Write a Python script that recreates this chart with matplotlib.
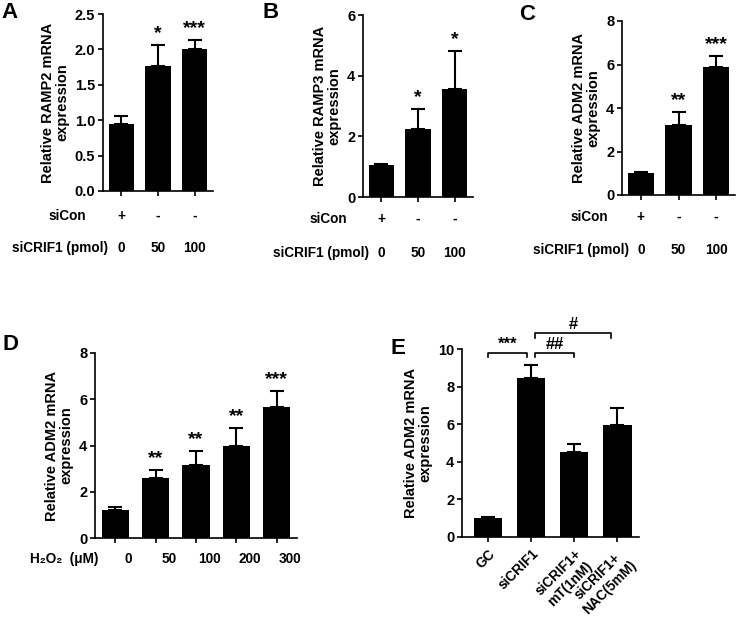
import numpy as np
import matplotlib
matplotlib.use("Agg")
import matplotlib.pyplot as plt
import matplotlib.transforms as mtransforms

plt.rcParams['font.family'] = ['Liberation Sans', 'DejaVu Sans']
plt.rcParams['font.weight'] = 'bold'
plt.rcParams['axes.labelweight'] = 'bold'
plt.rcParams['axes.linewidth'] = 1.2
plt.rcParams['xtick.major.width'] = 1.2
plt.rcParams['ytick.major.width'] = 1.2
plt.rcParams['xtick.major.size'] = 3.5
plt.rcParams['ytick.major.size'] = 3.5
plt.rcParams['font.size'] = 10

# ---- data ----
# panels A-C: siCon / siCRIF1 dose
sicon_marks = ['+', '-', '-']
sicrif_doses = ['0', '50', '100']

ramp2_mean = [0.94, 1.76, 2.00]
ramp2_err = [0.12, 0.30, 0.13]
ramp2_sig = ['', '*', '***']

ramp3_mean = [1.05, 2.25, 3.55]
ramp3_err = [0.05, 0.65, 1.27]
ramp3_sig = ['', '*', '*']

adm2_mean = [1.00, 3.20, 5.90]
adm2_err = [0.06, 0.60, 0.50]
adm2_sig = ['', '**', '***']

# panel D: H2O2 dose
h2o2_doses = ['0', '50', '100', '200', '300']
h2o2_mean = [1.20, 2.60, 3.17, 3.97, 5.65]
h2o2_err = [0.12, 0.33, 0.60, 0.80, 0.70]
h2o2_sig = ['', '**', '**', '**', '***']

# panel E: rescue
rescue_groups = ['GC', 'siCRIF1', 'siCRIF1+\nmT(1nM)', 'siCRIF1+\nNAC(5mM)']
rescue_mean = [1.00, 8.45, 4.52, 5.97]
rescue_err = [0.08, 0.70, 0.45, 0.90]
# (x start, x end, height, label)
rescue_brackets = [(0.0, 0.9, 9.8, '***'), (1.1, 2.0, 9.8, '##'), (1.1, 2.85, 10.85, '#')]

TICK_FS = 10.5
LABEL_FS = 10.5
ROW_FS = 9.8
STAR_FS = 14

W, H = 736, 622
fig = plt.figure(figsize=(W / 100, H / 100), dpi=100)


def px_axes(l, r, t, b):
    return fig.add_axes([l / W, 1 - b / H, (r - l) / W, (b - t) / H])


def bar_panel(ax, means, errs, sigs, width, ylim, yticks, ylabel, fmt=None, sig_off=2):
    x = np.arange(len(means))
    low = np.zeros(len(means))
    ax.bar(x, means, width=width, color='black', zorder=2)
    ax.errorbar(x, means, yerr=[low, errs], fmt='none', ecolor='black',
                elinewidth=1.5, capsize=5, capthick=1.5, zorder=1)
    for xi, m, e, s in zip(x, means, errs, sigs):
        if s:
            ax.annotate(s, (xi, m + e), xytext=(0, sig_off), textcoords='offset points',
                        ha='center', va='bottom', fontsize=STAR_FS, fontweight='bold')
    ax.set_ylim(*ylim)
    ax.set_yticks(yticks)
    if fmt:
        ax.set_yticklabels([fmt.format(v) for v in yticks])
    ax.set_xticks(x)
    ax.set_xticklabels([])
    ax.spines['top'].set_visible(False)
    ax.spines['right'].set_visible(False)
    ax.set_ylabel(ylabel, fontsize=LABEL_FS, fontweight='bold', linespacing=1.05)
    ax.tick_params(axis='y', pad=2)
    for lab in ax.get_yticklabels():
        lab.set_fontweight('bold')
        lab.set_fontsize(TICK_FS)
    return x


def row_labels(ax, labels, y_px, dx=0.0):
    tr = mtransforms.blended_transform_factory(ax.transData, fig.transFigure)
    for i, lab in enumerate(labels):
        ax.text(i + dx, 1 - y_px / H, lab, transform=tr, ha='center', va='center',
                fontsize=ROW_FS, fontweight='bold')


def row_title(x_px, y_px, text):
    fig.text(x_px / W, 1 - y_px / H, text, ha='right', va='center',
             fontsize=ROW_FS, fontweight='bold')


# ---- A ----
axA = px_axes(103, 213, 14, 191)
bar_panel(axA, ramp2_mean, ramp2_err, ramp2_sig, 0.7, (0, 2.5),
          [0, 0.5, 1.0, 1.5, 2.0, 2.5], 'Relative RAMP2 mRNA\nexpression', fmt='{:.1f}')
axA.set_xlim(-0.5, 2.5)
row_labels(axA, sicon_marks, 216)
row_labels(axA, sicrif_doses, 248)
row_title(86, 216, 'siCon')
row_title(108, 248, 'siCRIF1 (pmol)')

# ---- B ----
axB = px_axes(363, 473, 15, 197)
bar_panel(axB, ramp3_mean, ramp3_err, ramp3_sig, 0.7, (0, 6), [0, 2, 4, 6],
          'Relative RAMP3 mRNA\nexpression')
axB.set_xlim(-0.5, 2.5)
row_labels(axB, sicon_marks, 219)
row_labels(axB, sicrif_doses, 253)
row_title(347, 219, 'siCon')
row_title(369, 253, 'siCRIF1 (pmol)')

# ---- C ----
axC = px_axes(622, 735, 21, 195)
bar_panel(axC, adm2_mean, adm2_err, adm2_sig, 0.7, (0, 8), [0, 2, 4, 6, 8],
          'Relative ADM2 mRNA\nexpression')
axC.set_xlim(-0.5, 2.5)
row_labels(axC, sicon_marks, 217)
row_labels(axC, sicrif_doses, 250)
row_title(608, 217, 'siCon')
row_title(629, 250, 'siCRIF1 (pmol)')

# ---- D ----
axD = px_axes(95, 297, 353, 538)
bar_panel(axD, h2o2_mean, h2o2_err, h2o2_sig, 0.67, (0, 8), [0, 2, 4, 6, 8],
          'Relative ADM2 mRNA\nexpression')
axD.set_xlim(-0.5, 4.5)
row_labels(axD, h2o2_doses, 559, dx=0.33)
row_title(98, 559, 'H\u2082O\u2082  (\u03bcM)')

# ---- E ----
axE = px_axes(462, 639, 349, 537)
bar_panel(axE, rescue_mean, rescue_err, ['', '', '', ''], 0.66, (0, 10),
          [0, 2, 4, 6, 8, 10], 'Relative ADM2 mRNA\nexpression')
axE.set_xlim(-0.6, 3.5)
axE.set_xticklabels(rescue_groups, rotation=45, ha='right', rotation_mode='anchor',
                    fontsize=ROW_FS, fontweight='bold', multialignment='center')
for x0, x1, y, lab in rescue_brackets:
    axE.plot([x0, x0, x1, x1], [y - 0.25, y, y, y - 0.25], color='black', lw=1.2,
             clip_on=False)
    axE.text((x0 + x1) / 2, y + 0.05, lab, ha='center', va='bottom', fontsize=12,
             fontweight='bold')

# panel letters
for letter, (px, py) in zip('ABCDE', [(9, 13), (271, 13), (527, 14), (10, 344), (398, 348)]):
    fig.text(px / W, 1 - py / H, letter, ha='center', va='center', fontsize=16,
             fontweight='bold')

fig.savefig('out.png', dpi=100)
